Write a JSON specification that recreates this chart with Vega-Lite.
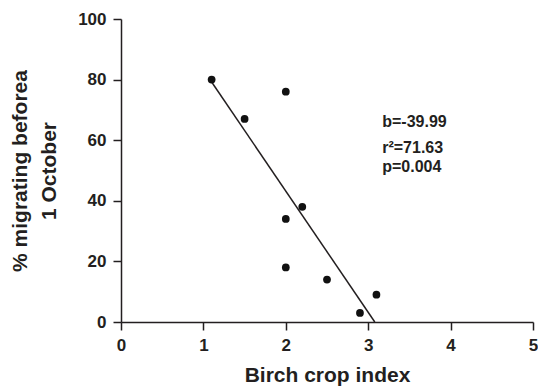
{
  "$schema": "https://vega.github.io/schema/vega-lite/v6.json",
  "width": 412,
  "height": 303,
  "autosize": {"type": "none"},
  "padding": {"left": 121, "top": 19, "right": 5, "bottom": 66},
  "background": "white",
  "config": {
    "view": {"stroke": null},
    "font": "Liberation Sans",
    "axis": {
      "grid": false,
      "domainColor": "#231f20",
      "domainWidth": 1.5,
      "tickColor": "#231f20",
      "tickWidth": 1.5,
      "tickSize": 8,
      "labelFont": "Liberation Sans",
      "labelFontWeight": "bold",
      "labelFontSize": 17,
      "labelColor": "#231f20",
      "labelPadding": 7,
      "titleFont": "Liberation Sans",
      "titleFontWeight": "bold",
      "titleFontSize": 21,
      "titleColor": "#231f20"
    }
  },
  "datasets": {
    "pts": [
      {"crop": 1.1, "pct": 80},
      {"crop": 1.5, "pct": 67},
      {"crop": 2.0, "pct": 76},
      {"crop": 2.0, "pct": 34},
      {"crop": 2.0, "pct": 18},
      {"crop": 2.2, "pct": 38},
      {"crop": 2.5, "pct": 14},
      {"crop": 2.9, "pct": 3},
      {"crop": 3.1, "pct": 9}
    ],
    "fit": [
      {"crop": 1.1, "pct": 79.2},
      {"crop": 3.08, "pct": 0}
    ],
    "stats": [
      {"crop": 3.17, "pct": 64.4, "label": "b=-39.99"},
      {"crop": 3.17, "pct": 55.8, "label": "r²=71.63"},
      {"crop": 3.17, "pct": 49.5, "label": "p=0.004"}
    ]
  },
  "encoding": {
    "x": {
      "field": "crop",
      "type": "quantitative",
      "scale": {"domain": [0, 5], "nice": false, "zero": false},
      "axis": {"values": [0, 1, 2, 3, 4, 5], "title": "Birch crop index", "titlePadding": 11, "labelFlush": false}
    },
    "y": {
      "field": "pct",
      "type": "quantitative",
      "scale": {"domain": [0, 100], "nice": false},
      "axis": {"values": [0, 20, 40, 60, 80, 100], "title": ["% migrating beforea", "1 October"], "titleLineHeight": 29, "titlePadding": 18}
    }
  },
  "layer": [
    {
      "data": {"name": "fit"},
      "mark": {"type": "line", "color": "#231f20", "strokeWidth": 1.5}
    },
    {
      "data": {"name": "pts"},
      "mark": {"type": "point", "filled": true, "color": "#111", "size": 60, "opacity": 1}
    },
    {
      "data": {"name": "stats"},
      "mark": {"type": "text", "align": "left", "baseline": "alphabetic", "font": "Liberation Sans", "fontWeight": "bold", "fontSize": 16, "color": "#231f20"},
      "encoding": {"text": {"field": "label"}}
    }
  ]
}
